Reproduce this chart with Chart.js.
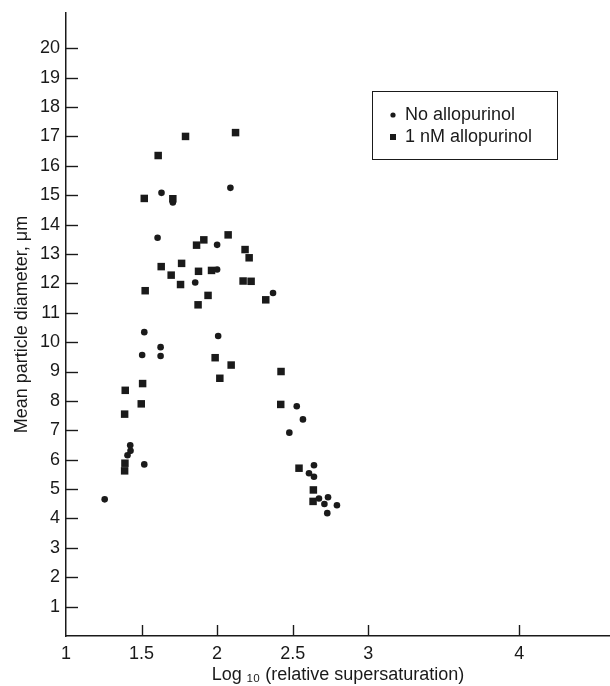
<!DOCTYPE html>
<html>
<head>
<meta charset="utf-8">
<script src="https://cdn.jsdelivr.net/npm/chart.js@4"></script>
<style>
  html, body { margin: 0; padding: 0; background: #fff; }
  #wrap { width: 610px; height: 686px; position: relative; }
</style>
</head>
<body>
<div id="wrap"><canvas id="chart"></canvas></div>
<script>
// log10 relative supersaturation vs mean particle diameter (um)
const noAlloX = [1.256, 1.407, 1.425, 1.427, 1.504, 1.518, 1.518, 1.606, 1.626, 1.626,
  1.632, 1.707, 1.855, 2.0, 2.0, 2.007, 2.088, 2.37, 2.478, 2.527,
  2.568, 2.608, 2.641, 2.641, 2.674, 2.71, 2.729, 2.734, 2.793]
const noAlloY = [4.65, 6.15, 6.49, 6.30, 9.56, 10.34, 5.84, 13.55, 9.83, 9.53,
  15.08, 14.75, 12.03, 13.31, 12.47, 10.21, 15.25, 11.67, 6.92, 7.82,
  7.37, 5.54, 5.81, 5.42, 4.68, 4.49, 4.18, 4.72, 4.45]

const alloX = [1.388, 1.39, 1.388, 1.392, 1.498, 1.507, 1.518, 1.524, 1.61, 1.63,
  1.696, 1.707, 1.758, 1.765, 1.791, 1.864, 1.874, 1.877, 1.912, 1.94,
  1.963, 1.987, 2.018, 2.073, 2.093, 2.122, 2.172, 2.185, 2.212, 2.225,
  2.322, 2.421, 2.423, 2.542, 2.635, 2.637]
const alloY = [5.62, 5.88, 7.55, 8.36, 7.90, 8.59, 14.89, 11.75, 16.35, 12.57,
  12.28, 14.88, 11.96, 12.68, 17.0, 13.30, 11.27, 12.41, 13.48, 11.59,
  12.44, 9.47, 8.77, 13.65, 9.22, 17.13, 12.08, 13.15, 12.87, 12.07,
  11.44, 7.88, 9.0, 5.71, 4.58, 4.97]

const xTicks = [1, 1.5, 2, 2.5, 3, 4]
const yTicks = [1, 2, 3, 4, 5, 6, 7, 8, 9, 10, 11, 12, 13, 14, 15, 16, 17, 18, 19, 20]

const INK = '#1a1a1a'
const FONT = "'Liberation Sans', Arial, sans-serif"

const toPoints = (xs, ys) => xs.map((x, i) => ({ x: x, y: ys[i] }))

// inward tick marks, like the printed figure
const innerTicks = {
  id: 'innerTicks',
  afterDraw: (chart) => {
    const { ctx, chartArea } = chart
    const sx = chart.scales.x
    const sy = chart.scales.y
    ctx.save()
    ctx.strokeStyle = INK
    ctx.lineWidth = 1.4
    xTicks.filter((v) => v > 1).forEach((v) => {
      const px = Math.round(sx.getPixelForValue(v)) + 0.5
      ctx.beginPath()
      ctx.moveTo(px, chartArea.bottom)
      ctx.lineTo(px, chartArea.bottom - 11)
      ctx.stroke()
    })
    yTicks.forEach((v) => {
      const py = Math.round(sy.getPixelForValue(v)) + 0.5
      ctx.beginPath()
      ctx.moveTo(chartArea.left, py)
      ctx.lineTo(chartArea.left + 12, py)
      ctx.stroke()
    })
    ctx.restore()
  },
}

// boxed legend inside the plot
const boxLegend = {
  id: 'boxLegend',
  afterDraw: (chart) => {
    const { ctx } = chart
    const sets = chart.data.datasets
    ctx.save()
    ctx.strokeStyle = INK
    ctx.lineWidth = 1
    ctx.strokeRect(372.5, 91.5, 185, 68)
    ctx.fillStyle = INK
    ctx.font = '18px ' + FONT
    ctx.textBaseline = 'middle'
    ctx.textAlign = 'left'
    sets.forEach((ds, i) => {
      const y = 115 + i * 22
      if (ds.pointStyle === 'rect') {
        ctx.fillRect(390, y - 3, 6, 6)
      } else {
        ctx.beginPath()
        ctx.arc(393, y, 2.6, 0, Math.PI * 2)
        ctx.fill()
      }
      ctx.fillText(ds.label, 405, y)
    })
    ctx.restore()
  },
}

new Chart(document.getElementById('chart'), {
  type: 'scatter',
  data: {
    datasets: [
      {
        label: 'No allopurinol',
        data: toPoints(noAlloX, noAlloY),
        pointStyle: 'circle',
        pointRadius: 3.3,
        backgroundColor: INK,
        borderColor: INK,
        borderWidth: 0,
      },
      {
        label: '1 nM allopurinol',
        data: toPoints(alloX, alloY),
        pointStyle: 'rect',
        pointRadius: 5.3,
        backgroundColor: INK,
        borderColor: INK,
        borderWidth: 0,
      },
    ],
  },
  options: {
    responsive: true,
    maintainAspectRatio: false,
    animation: false,
    layout: {
      autoPadding: false, // keep the plot box where the figure has it
      padding: { top: 13, right: 0, left: 0, bottom: 0 },
    },
    plugins: {
      legend: { display: false },
      tooltip: { enabled: false },
    },
    scales: {
      x: {
        type: 'linear',
        min: 1,
        max: 4.6,
        afterBuildTicks: (scale) => {
          scale.ticks = xTicks.map((v) => ({ value: v }))
        },
        afterFit: (scale) => {
          scale.height = 50
          scale.paddingLeft = 0
          scale.paddingRight = 0
        },
        grid: { drawOnChartArea: false, drawTicks: false },
        border: { display: true, color: INK, width: 1.5 },
        ticks: {
          padding: 7,
          color: INK,
          font: { family: FONT, size: 18 },
          maxRotation: 0,
          autoSkip: false,
          callback: (v) => String(v),
        },
        title: {
          display: true,
          text: 'Log ₁₀ (relative supersaturation)',
          color: INK,
          font: { family: FONT, size: 18 },
          padding: { top: 0, bottom: 0 },
        },
      },
      y: {
        type: 'linear',
        min: 0,
        max: 21.2,
        afterBuildTicks: (scale) => {
          scale.ticks = yTicks.map((v) => ({ value: v }))
        },
        afterFit: (scale) => {
          scale.width = 66
          scale.paddingTop = 0
          scale.paddingBottom = 0
        },
        grid: { drawOnChartArea: false, drawTicks: false },
        border: { display: true, color: INK, width: 1.5 },
        ticks: {
          padding: 6,
          color: INK,
          font: { family: FONT, size: 18 },
          autoSkip: false,
          callback: (v) => String(v),
        },
        title: {
          display: true,
          text: 'Mean particle diameter, μm',
          color: INK,
          font: { family: FONT, size: 18 },
          padding: { top: 11, bottom: 0 },
        },
      },
    },
  },
  plugins: [innerTicks, boxLegend],
})
</script>
</body>
</html>
